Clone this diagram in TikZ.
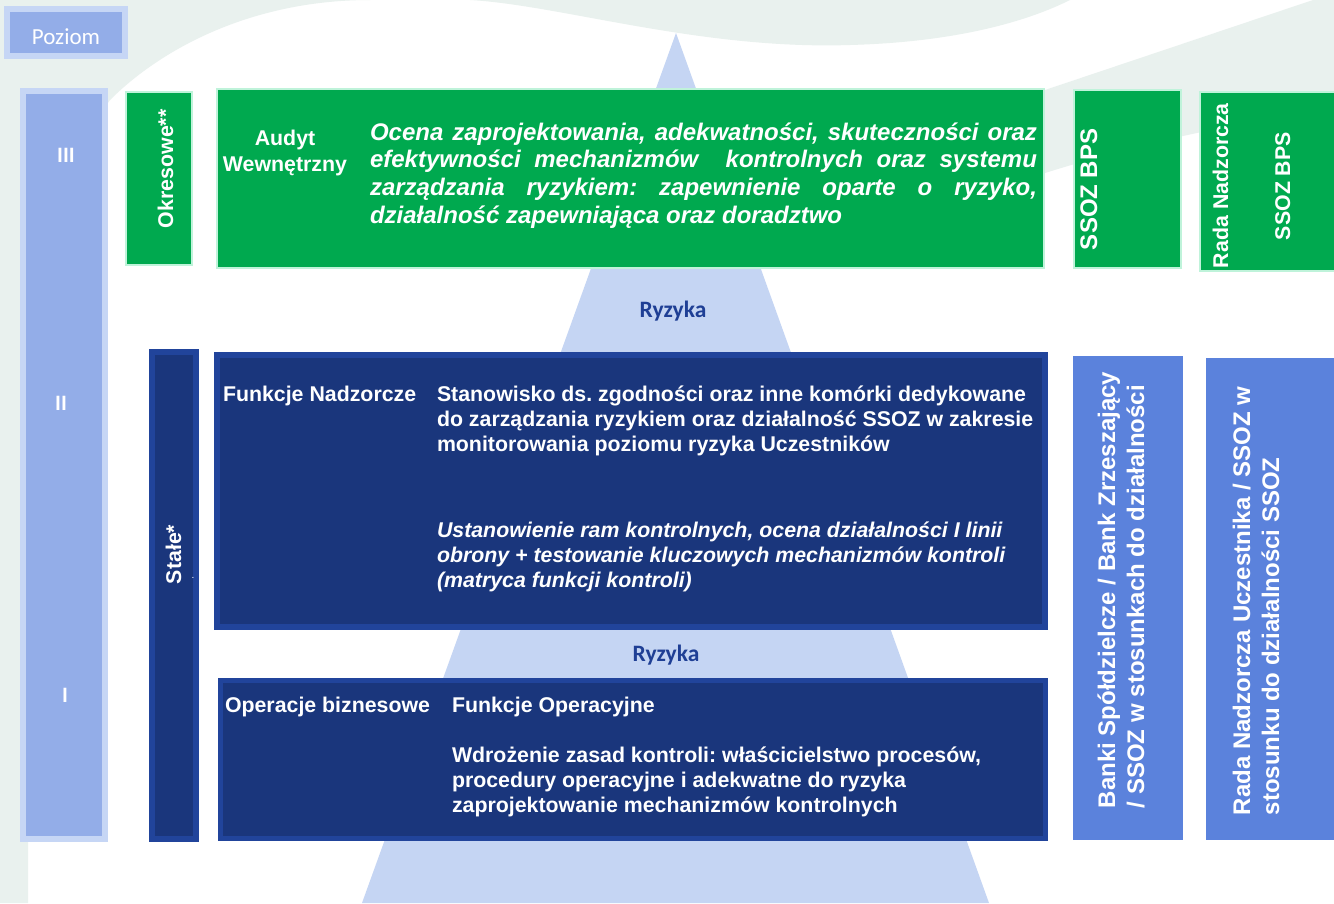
\documentclass[tikz,border=0pt]{standalone}
\usepackage{fontspec}
\setmainfont{Liberation Sans}
\newfontfamily\calibri{Carlito}
\frenchspacing
\definecolor{bggrey}{HTML}{E9F1EE}
\definecolor{levfill}{HTML}{93ADE8}
\definecolor{levborder}{HTML}{C6D6F5}
\definecolor{grn}{HTML}{00A94F}
\definecolor{mint}{HTML}{BFF3DA}
\definecolor{navy}{HTML}{1A367C}
\definecolor{navyb}{HTML}{21449B}
\definecolor{midblue}{HTML}{5B82DC}
\definecolor{pyr}{HTML}{C5D5F3}
\definecolor{ryz}{HTML}{1F3F95}
\tikzset{
  box/.style={inner sep=0pt, outer sep=0pt, rectangle},
  levbox/.style={box, fill=levfill, draw=levborder, line width=6pt},
  grnbox/.style={box, fill=grn, draw=mint, line width=2pt},
  navybox/.style={box, fill=navy, draw=navyb, line width=6pt},
  bluebox/.style={box, fill=midblue},
  txt/.style={inner sep=0pt, outer sep=0pt, text=white, font=\bfseries\fontsize{21.33}{25}\selectfont},
  txtb/.style={txt, anchor=base west},
  vtxt/.style={txt, rotate=90, anchor=base west},
  ocena/.style={txt, anchor=base west, font=\bfseries\itshape\fontsize{24}{27.7}\selectfont},
  ryzyka/.style={inner sep=0pt, anchor=base, text=ryz, font=\calibri\bfseries\fontsize{23.5}{28}\selectfont},
  lvl/.style={inner sep=0pt, text=white, font=\calibri\bfseries\fontsize{22}{26}\selectfont}
}
\begin{document}
\begin{tikzpicture}[x=1pt,y=-1pt]
\useasboundingbox (0,0) rectangle (1334,903);
% background
\fill[white] (0,0) rectangle (1334,903);
\fill[bggrey] (0,0) -- (370,0) .. controls (250,0) and (160,50) .. (110,100)
  .. controls (60,170) and (30,400) .. (28,600) -- (28,903) -- (0,903) -- cycle;
\fill[bggrey] (470,0) .. controls (560,5) and (700,50) .. (850,45)
  .. controls (960,42) and (1030,20) .. (1070,0) -- cycle;
\fill[bggrey] (1313,0) -- (1334,0) -- (1334,110) .. controls (1250,120) and (1150,140) .. (1045,173)
  -- (942,200) -- (836,160) -- (1045,90) -- cycle;
% pyramid
\fill[pyr] (676,33) -- (989,903) -- (362,903) -- cycle;

% boxes
\node[levbox, minimum width=118pt, minimum height=47pt] (poz) at (66,32.5) {};
\node[levbox, minimum width=82pt, minimum height=748pt] (lvl) at (64,465) {};
\node[grnbox, minimum width=66pt, minimum height=173pt] (okr) at (159,178.5) {};
\node[grnbox, minimum width=827pt, minimum height=179pt] (audit) at (630.5,178.5) {};
\node[grnbox, minimum width=107pt, minimum height=178pt] (ssoz) at (1127.5,179) {};
\node[grnbox, minimum width=135pt, minimum height=179pt] (rada) at (1267.5,181.5) {};
\node[navybox, minimum width=44pt, minimum height=487pt] (stale) at (174,595.5) {};
\node[navybox, minimum width=828pt, minimum height=272pt] (nadz) at (631,491) {};
\node[navybox, line width=5pt, minimum width=825pt, minimum height=158pt] (oper) at (633,759.5) {};
\node[bluebox, minimum width=110pt, minimum height=484pt] (blue1) at (1128,598) {};
\node[bluebox, minimum width=130pt, minimum height=482pt] (blue2) at (1271,599) {};

% texts
\node[inner sep=0pt, text=white, font=\calibri\fontsize{23}{28}\selectfont] (tpoz) at (66,36.5) {Poziom};
\node[lvl] (l3) at (66,155) {III};
\node[lvl] (l2) at (61,403) {II};
\node[lvl] (l1) at (65,695) {I};

\node[vtxt] (tokr) at (173,228) {Okresowe**};
\node[txt, anchor=base] (ta1) at (285,145) {Audyt};
\node[txt, anchor=base] (ta2) at (285,171) {Wewnętrzny};
\node[ocena] (o1) at (370,140) {\makebox[667pt][s]{Ocena zaprojektowania, adekwatności, skuteczności oraz}};
\node[ocena] (o2) at (370,167.7) {\makebox[667pt][s]{efektywności mechanizmów \ kontrolnych oraz systemu}};
\node[ocena] (o3) at (370,195.4) {\makebox[667pt][s]{zarządzania ryzykiem: zapewnienie oparte o ryzyko,}};
\node[ocena] (o4) at (370,223.1) {działalność zapewniająca oraz doradztwo};

\node[vtxt, font=\bfseries\fontsize{24}{28}\selectfont] (tssoz) at (1097,250) {SSOZ BPS};
\node[vtxt] (trada) at (1228,268) {Rada Nadzorcza};
\node[vtxt] (tssoz2) at (1290,240) {SSOZ BPS};

\node[ryzyka] (r1) at (673,317.5) {Ryzyka};
\node[ryzyka] (r2) at (666,661.5) {Ryzyka};

\node[vtxt] (tstale) at (181,584) {Stałe*};
\node[inner sep=0pt, text=white, font=\fontsize{10}{12}\selectfont] (tdot) at (193,578) {.};

\node[txtb] (tfn) at (223,401.5) {Funkcje Nadzorcze};
\node[txtb] (s1) at (437,401.5) {Stanowisko ds. zgodności oraz inne komórki dedykowane};
\node[txtb] (s2) at (437,426.5) {do zarządzania ryzykiem oraz działalność SSOZ w zakresie};
\node[txtb] (s3) at (437,451.5) {monitorowania poziomu ryzyka Uczestników};
\node[txtb, font=\bfseries\itshape\fontsize{21.33}{25}\selectfont] (u1) at (437,537.5) {Ustanowienie ram kontrolnych, ocena działalności I linii};
\node[txtb, font=\bfseries\itshape\fontsize{21.33}{25}\selectfont] (u2) at (437,562.5) {obrony + testowanie kluczowych mechanizmów kontroli};
\node[txtb, font=\bfseries\itshape\fontsize{21.33}{25}\selectfont] (u3) at (437,587.5) {(matryca funkcji kontroli)};

\node[txtb] (tob) at (225,712.5) {Operacje biznesowe};
\node[txtb] (tfo) at (452,712.5) {Funkcje Operacyjne};
\node[txtb] (w1) at (452,762.5) {Wdrożenie zasad kontroli: właścicielstwo procesów,};
\node[txtb] (w2) at (452,787.5) {procedury operacyjne i adekwatne do ryzyka};
\node[txtb] (w3) at (452,812.5) {zaprojektowanie mechanizmów kontrolnych};

\node[vtxt, font=\bfseries\fontsize{24}{28}\selectfont] (b1) at (1115,808) {Banki Spółdzielcze / Bank Zrzeszający};
\node[vtxt, font=\bfseries\fontsize{24}{28}\selectfont] (b2) at (1144,808) {/ SSOZ w stosunkach do działalności};
\node[vtxt, font=\bfseries\fontsize{24}{28}\selectfont] (c1) at (1250,815) {Rada Nadzorcza Uczestnika / SSOZ w};
\node[vtxt, font=\bfseries\fontsize{24}{28}\selectfont] (c2) at (1279,815) {stosunku do działalności SSOZ};
\end{tikzpicture}
\end{document}
